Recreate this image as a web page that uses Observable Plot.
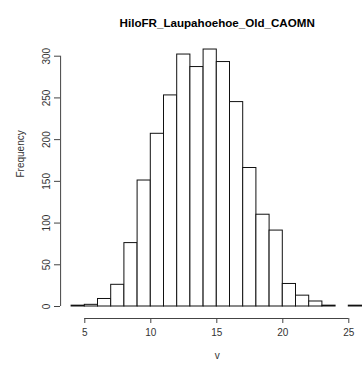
<!DOCTYPE html>
<html><head><meta charset="utf-8">
<script src="https://cdn.jsdelivr.net/npm/d3@7"></script>
<script src="https://cdn.jsdelivr.net/npm/@observablehq/plot@0.6"></script>
<style>html,body{margin:0;padding:0;background:#fff} svg{display:block}</style>
</head><body><div id="chart"></div>
<script>
const title = "HiloFR_Laupahoehoe_Old_CAOMN";
const xLabel = "v";
const yLabel = "Frequency";
const binStarts = [4,5,6,7,8,9,10,11,12,13,14,15,16,17,18,19,20,21,22,23,24,25];
const binWidth = 1;
const counts = [1,2,9,26,76,151,207,253,302,287,308,293,245,166,110,91,27,13,6,1,0,1];
const xTicks = [5,10,15,20,25];
const yTicks = [0,50,100,150,200,250,300];

const bins = binStarts.map((x0, i) => ({x0, x1: x0 + binWidth, count: counts[i]}));

const chart = Plot.plot({
  width: 363, height: 365,
  marginLeft: 60, marginTop: 38, marginBottom: 47, marginRight: 0,
  style: {fontFamily: "'Liberation Sans', Arial, sans-serif", background: "#fff", color: "#333", overflow: "visible"},
  x: {domain: [binStarts[0], binStarts[binStarts.length - 1] + binWidth], range: [71.1, 361.5]},
  y: {domain: [yTicks[0], yTicks[yTicks.length - 1]], range: [306, 55.7]},
  marks: [
    Plot.rectY(bins, {x1: "x0", x2: "x1", y: "count", fill: "white", stroke: "#111", strokeWidth: 1, inset: 0}),
    Plot.ruleY([0], {x1: xTicks[0], x2: xTicks[xTicks.length - 1], dy: 12, stroke: "#444"}),
    Plot.axisX(xTicks, {tickSize: 5, tickPadding: 5, fontSize: 10, label: null, stroke: "#444", fill: "#333"}),
    Plot.ruleX([binStarts[0]], {y1: yTicks[0], y2: yTicks[yTicks.length - 1], dx: -11, stroke: "#444"}),
    Plot.axisY(yTicks, {tickSize: 6, tickRotate: -90, tickPadding: 5, fontSize: 10, label: null, stroke: "#444", fill: "#333"}),
    Plot.text([title], {frameAnchor: "top", dx: 5.2, dy: -19.7, fontWeight: "bold", fontSize: 11.6, fill: "#000"}),
    Plot.text([xLabel], {frameAnchor: "bottom", dx: 5.2, dy: 40, fontSize: 10, fill: "#333"}),
    Plot.text([yLabel], {frameAnchor: "left", dx: -40, dy: -1, rotate: -90, fontSize: 10, fill: "#333"})
  ]
});
document.getElementById("chart").appendChild(chart);
</script>
</body></html>
